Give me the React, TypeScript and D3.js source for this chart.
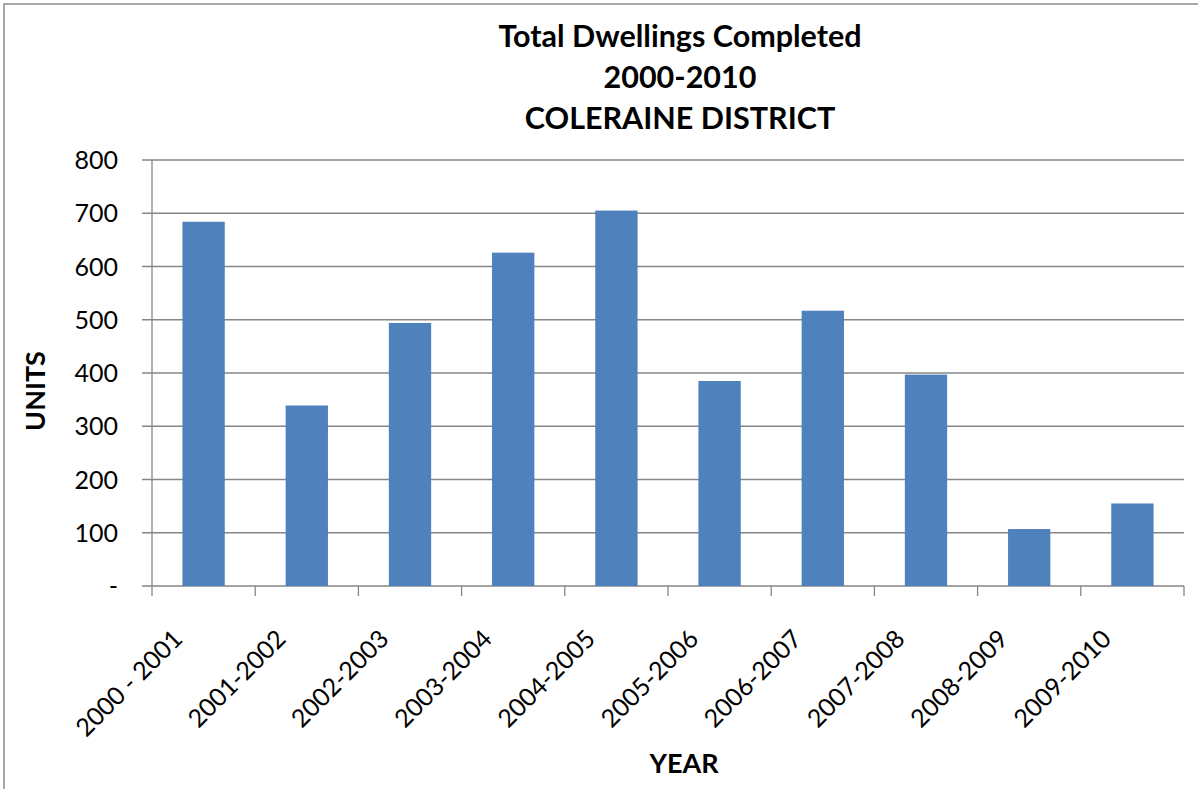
import React from "react";
import * as d3 from "d3";

const categories = ["2000 - 2001", "2001-2002", "2002-2003", "2003-2004", "2004-2005", "2005-2006", "2006-2007", "2007-2008", "2008-2009", "2009-2010"];
const values = [684, 339, 494, 626, 705, 385, 517, 397, 107, 155];
const yTicks = [0, 100, 200, 300, 400, 500, 600, 700, 800];
const titleLines = ["Total Dwellings Completed", "2000-2010", "COLERAINE DISTRICT"];

const W = 1198, H = 789;
const left = 152, right = 1184, top = 160, bottom = 586;
const font = "Lato, 'Open Sans', sans-serif";

export default function App() {
  const x = d3.scaleBand<string>().domain(categories).range([left, right]).paddingInner(0.59).paddingOuter(0.295);
  const xb = d3.scaleBand<string>().domain(categories).range([left, right]);
  const y = d3.scaleLinear().domain([0, 800]).range([bottom, top]);
  const grid = "#868686";
  return (
    <svg width={W} height={H} style={{ position: "absolute", left: 0, top: 0 }}>
      <rect x={0} y={0} width={W} height={H} fill="#fff" />
      <rect x={4} y={4} width={W + 10} height={H + 10} fill="none" stroke="#8c8c8c" strokeWidth={1.5} />
      {titleLines.map((t, i) => (
        <text key={t} x={680} y={47 + i * 41} textAnchor="middle" fontFamily={font} fontWeight="bold" fontSize={30.5} fill="#000">{t}</text>
      ))}
      {yTicks.map((v) => (
        <g key={v}>
          <line x1={left - 10} x2={right} y1={y(v)} y2={y(v)} stroke={grid} strokeWidth={1.3} />
          <text x={118} y={y(v)} dy="0.36em" textAnchor="end" fontFamily={font} fontSize={25} fill="#000">{v === 0 ? "-" : v}</text>
        </g>
      ))}
      <line x1={left} x2={left} y1={top} y2={bottom} stroke={grid} strokeWidth={1.3} />
      {categories.map((c) => (
        <line key={c} x1={xb(c)!} x2={xb(c)!} y1={bottom} y2={bottom + 10} stroke={grid} strokeWidth={1.3} />
      ))}
      <line x1={right} x2={right} y1={bottom} y2={bottom + 10} stroke={grid} strokeWidth={1.3} />
      {categories.map((c, i) => (
        <rect key={c} x={x(c)!} y={y(values[i])} width={x.bandwidth()} height={bottom - y(values[i])} fill="#4F81BD" />
      ))}
      {categories.map((c) => {
        const cx = xb(c)! + xb.bandwidth() / 2 - 32;
        const cy = 628;
        return (
          <text key={c} transform={`translate(${cx},${cy}) rotate(-45)`} textAnchor="end" dy="0.7em" fontFamily={font} fontSize={25} fill="#000">{c}</text>
        );
      })}
      <text x={684} y={773} textAnchor="middle" fontFamily={font} fontWeight="bold" fontSize={27} fill="#000">YEAR</text>
      <text transform={`translate(45,391) rotate(-90)`} textAnchor="middle" fontFamily={font} fontWeight="bold" fontSize={27} fill="#000">UNITS</text>
    </svg>
  );
}
